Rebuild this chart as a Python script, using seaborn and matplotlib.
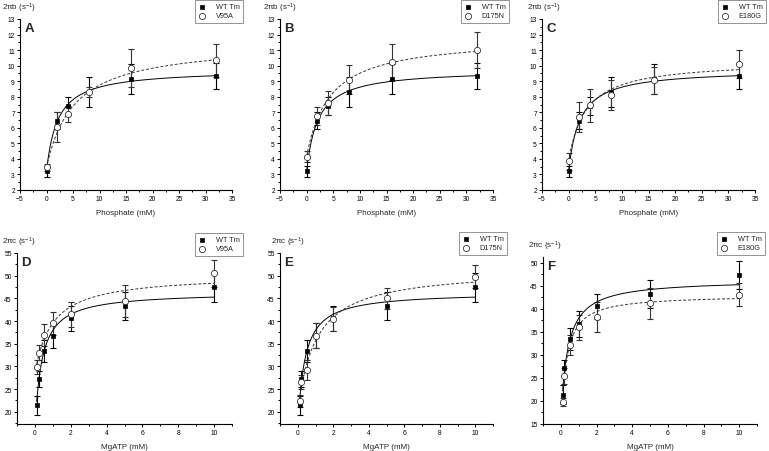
# Rate constants vs phosphate / MgATP for WT Tm and three mutants (panels A-F)
import matplotlib as mpl
mpl.use('Agg')
import matplotlib.pyplot as plt
from matplotlib.ticker import MultipleLocator
import numpy as np
import seaborn as sns

# Data
phosphate = [0, 2, 4, 8, 16, 32]
mgatp = [0.1, 0.2, 0.5, 1, 2, 5, 10]

wtRateB = [3.2, 6.45, 7.4, 8.3, 9.15, 9.35]
wtErrB = [0.35, 0.55, 0.6, 0.95, 0.95, 0.85]
v95aRateB = [3.45, 6.05, 6.9, 8.3, 9.85, 10.35]
v95aErrB = [0.25, 0.95, 0.5, 0.3, 1.2, 1.05]
d175nRateB = [4.15, 6.75, 7.6, 9.1, 10.25, 11.0]
d175nErrB = [0.35, 0.6, 0.75, 0.95, 1.15, 1.15]
e180gRateB = [3.85, 6.7, 7.45, 8.1, 9.05, 10.1]
e180gErrB = [0.55, 0.95, 1.05, 0.95, 0.85, 0.9]

wtRateC = [21.4, 27.2, 33.4, 36.8, 40.6, 43.3, 47.4]
wtErrC = [2.05, 1.7, 2.4, 2.8, 2.7, 3.1, 3.1]
v95aRateC = [29.9, 33.0, 37.0, 39.5, 41.5, 44.5, 50.5]
v95aErrC = [1.5, 1.7, 2.4, 2.6, 2.8, 3.5, 3.0]
d175nRateC = [22.4, 26.5, 29.2, 36.8, 40.5, 45.0, 49.8]
d175nErrC = [1.3, 1.5, 2.2, 2.7, 2.6, 2.3, 2.6]
e180gRateC = [19.8, 25.5, 32.1, 36.0, 38.3, 41.2, 43.1]
e180gErrC = [0.8, 1.7, 2.2, 2.8, 3.3, 3.4, 2.5]

# General settings
W, H = 769, 452
sns.set_style('white')
mpl.rc('font', family=['Liberation Sans', 'DejaVu Sans'])
mpl.rc('mathtext', default='regular')

# panel: letter, x, wt, wtErr, mutant, mutantErr, mutant name, xlabel, ylabel, xlim, ylim, x major, y major
panels = [
    ['A', phosphate, wtRateB, wtErrB, v95aRateB, v95aErrB, 'V95A', 'Phosphate (mM)', '2πb (s$^{-1}$)', (-5, 35), (2, 13), 5, 1],
    ['B', phosphate, wtRateB, wtErrB, d175nRateB, d175nErrB, 'D175N', 'Phosphate (mM)', '2πb (s$^{-1}$)', (-5, 35), (2, 13), 5, 1],
    ['C', phosphate, wtRateB, wtErrB, e180gRateB, e180gErrB, 'E180G', 'Phosphate (mM)', '2πb (s$^{-1}$)', (-5, 35), (2, 13), 5, 1],
    ['D', mgatp, wtRateC, wtErrC, v95aRateC, v95aErrC, 'V95A', 'MgATP (mM)', '2πc (s$^{-1}$)', (-1, 11), (17.3, 55), 2, 5],
    ['E', mgatp, wtRateC, wtErrC, d175nRateC, d175nErrC, 'D175N', 'MgATP (mM)', '2πc (s$^{-1}$)', (-1, 11), (17.3, 55), 2, 5],
    ['F', mgatp, wtRateC, wtErrC, e180gRateC, e180gErrC, 'E180G', 'MgATP (mM)', '2πc (s$^{-1}$)', (-1, 11), (15, 51.3), 2, 5],
]
# axes boxes in pixels: left, right, top, bottom ; legend anchor: right, top
boxes = [(20, 232, 20, 191), (280, 493, 20, 191), (542, 755, 20, 191),
         (17, 232, 254, 425), (280, 493, 254, 425), (543, 757, 258, 425)]
legAnchor = [(243, 1), (509, 1), (766, 1), (243, 234), (507, 233), (765, 233)]
# y label left edge, in pixels relative to the y spine
ylabShift = [-18, -17, -15, -15, -9, -15]


def hyperFit(x, y, err):
    # y = y0 + A*x/(K+x), grid over K with weighted linear least squares for y0, A
    x = np.asarray(x, float)
    y = np.asarray(y, float)
    w = 1 / np.asarray(err, float)
    best = None
    for k in np.logspace(-2, 2, 400):
        M = np.column_stack([np.ones_like(x), x / (k + x)])
        coef = np.linalg.lstsq(M * w[:, None], y * w, rcond=None)[0]
        sse = np.sum(((M @ coef - y) * w) ** 2)
        if best is None or sse < best[0]:
            best = (sse, k, coef)
    xs = np.linspace(x.min(), x.max(), 300)
    ys = best[2][0] + best[2][1] * xs / (best[1] + xs)
    return xs, ys


fig = plt.figure(figsize=(W / 100, H / 100), dpi=100)
for i, p in enumerate(panels):
    letter, x, wt, wtErr, mut, mutErr, mutName, xlab, ylab, xlim, ylim, xmaj, ymaj = p
    l, r, t, b = boxes[i]
    ax = fig.add_axes([l / W, 1 - b / H, (r - l) / W, (b - t) / H])

    # error bars
    ax.errorbar(x, wt, yerr=wtErr, fmt='none', ecolor='black', elinewidth=0.8, capsize=2.3, capthick=0.8, zorder=2)
    ax.errorbar(x, mut, yerr=mutErr, fmt='none', ecolor='#333333', elinewidth=0.8, capsize=2.3, capthick=0.8, zorder=2)

    # hyperbolic fits
    xs, ys = hyperFit(x, wt, wtErr)
    sns.lineplot(x=xs, y=ys, ax=ax, color='black', lw=0.7, zorder=3)
    xs, ys = hyperFit(x, mut, mutErr)
    sns.lineplot(x=xs, y=ys, ax=ax, color='#333333', lw=0.7, linestyle=(0, (3, 2)), zorder=3)

    # points
    sns.scatterplot(x=x, y=wt, ax=ax, marker='s', s=11, color='black', edgecolor='black', linewidth=0.5, label='WT Tm', zorder=4)
    sns.scatterplot(x=x, y=mut, ax=ax, marker='o', s=20, facecolor='white', edgecolor='#333333', linewidth=0.6, label=mutName, zorder=5)

    ax.set_xlim(xlim)
    ax.set_ylim(ylim)
    ax.xaxis.set_major_locator(MultipleLocator(xmaj))
    ax.xaxis.set_minor_locator(MultipleLocator(xmaj / 2))
    ax.yaxis.set_major_locator(MultipleLocator(ymaj))
    ax.yaxis.set_minor_locator(MultipleLocator(ymaj / 2))
    ax.tick_params(which='both', direction='out', colors='black', labelsize=4.8, pad=1.5, width=0.7)
    ax.tick_params(which='major', length=2.2)
    ax.tick_params(which='minor', length=1.2)
    ax.tick_params(bottom=True, left=True, which='both')
    sns.despine(ax=ax)
    for s in ['left', 'bottom']:
        ax.spines[s].set_linewidth(0.8)
        ax.spines[s].set_color('black')

    ax.set_xlabel(xlab, fontsize=5.8, labelpad=5)
    ax.set_ylabel('')
    ax.annotate(ylab, xy=(0, 1), xycoords='axes fraction', xytext=(ylabShift[i] * 0.72, 3.5), textcoords='offset points',
                fontsize=5.8, ha='left', va='bottom')
    ax.text(0.02, 0.985, letter, transform=ax.transAxes, fontsize=9.5, fontweight='bold', ha='left', va='top')

    lr, lt = legAnchor[i]
    leg = ax.legend(loc='upper right', bbox_to_anchor=(lr / W, 1 - lt / H), bbox_transform=fig.transFigure,
                    fontsize=5.3, frameon=True, fancybox=False, borderpad=0.45, handletextpad=1.4,
                    handlelength=1.0, labelspacing=0.25, borderaxespad=0)
    leg.get_frame().set_edgecolor('#777777')
    leg.get_frame().set_linewidth(0.7)

plt.savefig('out.png', dpi=100)
